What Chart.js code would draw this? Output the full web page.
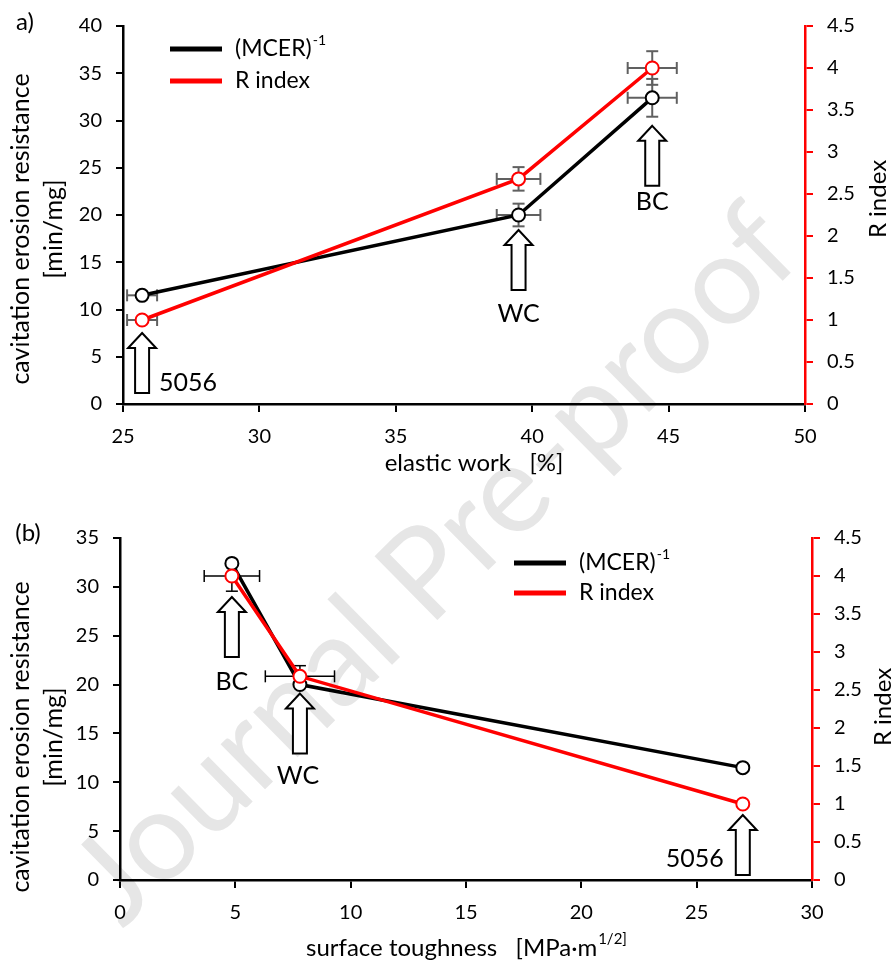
<!DOCTYPE html>
<html>
<head>
<meta charset="utf-8">
<script src="https://cdn.jsdelivr.net/npm/chart.js@4"></script>
<style>
  body { margin: 0; background: #fff; }
  #wrap { position: relative; width: 891px; height: 964px; overflow: hidden; }
  #wm {
    position: absolute; left: 430px; top: 560px;
    transform: translate(-50%, -50%) rotate(-44.5deg);
    font: 125px Lato, sans-serif; color: #e6e6e6; white-space: nowrap;
  }
  canvas { position: absolute; left: 0; }
  #chartA { top: 0; }
  #chartB { top: 482px; }
</style>
</head>
<body>
<div id="wrap">
  <div id="wm">Journal Pre-proof</div>
  <canvas id="chartA" width="891" height="482"></canvas>
  <canvas id="chartB" width="891" height="482"></canvas>
</div>
<script>
// sample names and measured values
const materials = ['5056', 'WC', 'BC'];
const elasticWork = [25.7, 39.5, 44.4];
const elasticWorkErr = [0.55, 0.8, 0.9];
const toughness = [27.0, 7.8, 4.85];
const toughnessErr = [0, 1.5, 1.2];
const mcerInv = [11.5, 20.0, 32.4];
const mcerInvErr = [0.3, 1.2, 2.0];
const rIndex = [1.0, 2.68, 4.0];
const rIndexErr = [0.03, 0.14, 0.2];

// axis ranges [min, max, step]
const xRangeA = [25, 50, 5];
const xRangeB = [0, 30, 5];
const yLeftRangeA = [0, 40, 5];
const yLeftRangeB = [0, 35, 5];
const yRightRange = [0, 4.5, 0.5];

const FONT = 'Lato, sans-serif';

function pts(xs, ys) {
    return xs.map((x, i) => ({ x: x, y: ys[i] }));
}

// draws a hollow up arrow
function upArrow(ctx, cx, tip, base) {
    ctx.save();
    ctx.beginPath();
    ctx.moveTo(cx, tip);
    ctx.lineTo(cx + 14, tip + 15);
    ctx.lineTo(cx + 7, tip + 15);
    ctx.lineTo(cx + 7, base);
    ctx.lineTo(cx - 7, base);
    ctx.lineTo(cx - 7, tip + 15);
    ctx.lineTo(cx - 14, tip + 15);
    ctx.closePath();
    ctx.fillStyle = '#fff';
    ctx.fill();
    ctx.lineWidth = 2;
    ctx.strokeStyle = '#000';
    ctx.stroke();
    ctx.restore();
}

function errLine(ctx, x1, y1, x2, y2) {
    ctx.beginPath();
    ctx.moveTo(x1, y1);
    ctx.lineTo(x2, y2);
    ctx.stroke();
}

// text with a superscript part
function supText(ctx, x, y, main, sup, size, align) {
    ctx.font = size + 'px ' + FONT;
    const w1 = ctx.measureText(main).width;
    ctx.font = Math.round(size * 0.62) + 'px ' + FONT;
    const w2 = ctx.measureText(sup).width;
    let start = x;
    if (align === 'center') start = x - (w1 + w2) / 2;
    ctx.textAlign = 'left';
    ctx.textBaseline = 'middle';
    ctx.font = size + 'px ' + FONT;
    ctx.fillText(main, start, y);
    ctx.font = Math.round(size * 0.62) + 'px ' + FONT;
    ctx.fillText(sup, start + w1 + 1, y - size * 0.38);
}

function makeChart(id, cfg) {
    const errPlugin = {
        id: 'errbars',
        beforeDatasetsDraw(chart) {
            const ctx = chart.ctx;
            const xs = chart.scales.x;
            ctx.save();
            ctx.strokeStyle = cfg.errColor;
            ctx.lineWidth = cfg.errWidth;
            cfg.errors.forEach(e => {
                const ys = chart.scales[e.axis];
                e.y.forEach((yv, i) => {
                    const px = xs.getPixelForValue(e.x[i]);
                    const py = ys.getPixelForValue(yv);
                    if (e.xErr && e.xErr[i]) {
                        const a = xs.getPixelForValue(e.x[i] - e.xErr[i]);
                        const b = xs.getPixelForValue(e.x[i] + e.xErr[i]);
                        errLine(ctx, a, py, b, py);
                        errLine(ctx, a, py - 6, a, py + 6);
                        errLine(ctx, b, py - 6, b, py + 6);
                    }
                    if (e.yErr && e.yErr[i]) {
                        const a = ys.getPixelForValue(yv - e.yErr[i]);
                        const b = ys.getPixelForValue(yv + e.yErr[i]);
                        errLine(ctx, px, a, px, b);
                        errLine(ctx, px - 6, a, px + 6, a);
                        errLine(ctx, px - 6, b, px + 6, b);
                    }
                });
            });
            ctx.restore();
        },
        afterDraw(chart) {
            const ctx = chart.ctx;
            const xs = chart.scales.x;
            ctx.save();
            ctx.fillStyle = '#000';
            // arrows with sample labels
            cfg.arrows.forEach(a => {
                const ys = chart.scales[a.axis];
                const cx = xs.getPixelForValue(cfg.xData[a.i]);
                const py = ys.getPixelForValue(a.axis === 'y' ? mcerInv[a.i] : rIndex[a.i]);
                const tip = py + a.gap;
                const base = tip + 60;
                upArrow(ctx, cx, tip, base);
                ctx.font = '25px ' + FONT;
                ctx.textAlign = a.align;
                ctx.textBaseline = 'middle';
                ctx.fillText(materials[a.i], cx + a.ldx, base + a.ldy);
            });
            // legend
            const lg = cfg.legend;
            [['#000', 0], ['#ff0000', 1]].forEach(([c, k]) => {
                const y = lg.y + k * lg.dy;
                ctx.strokeStyle = c;
                ctx.lineWidth = 5;
                errLine(ctx, lg.x, y, lg.x + 52, y);
            });
            ctx.fillStyle = '#000';
            supText(ctx, lg.x + 65, lg.y, '(MCER)', '-1', 23, 'left');
            ctx.font = '23px ' + FONT;
            ctx.textAlign = 'left';
            ctx.fillText('R index', lg.x + 65, lg.y + lg.dy);
            // panel letter
            ctx.font = '24px ' + FONT;
            ctx.textAlign = 'center';
            ctx.fillText(cfg.letter[0], cfg.letter[1], cfg.letter[2]);
            // axis titles
            ctx.font = '25px ' + FONT;
            ctx.save();
            ctx.translate(21, cfg.yTitleY);
            ctx.rotate(-Math.PI / 2);
            ctx.fillText('cavitation erosion resistance', 0, 0);
            ctx.fillText('[min/mg]', 0, 33);
            ctx.restore();
            ctx.font = '24px ' + FONT;
            ctx.save();
            ctx.translate(cfg.rTitle[0], cfg.rTitle[1]);
            ctx.rotate(-Math.PI / 2);
            ctx.fillText('R index', 0, 0);
            ctx.restore();
            if (cfg.xTitleSup) {
                supText(ctx, cfg.xTitle[0], cfg.xTitle[1], cfg.xTitleText, cfg.xTitleSup, 24, 'center');
            } else {
                ctx.font = '24px ' + FONT;
                ctx.fillText(cfg.xTitleText, cfg.xTitle[0], cfg.xTitle[1]);
            }
            ctx.restore();
        }
    };

    const tickFont = { family: FONT, size: 20 };
    const plain = v => String(v);
    return new Chart(document.getElementById(id), {
        type: 'line',
        data: {
            datasets: [
                {
                    label: 'R index',
                    data: pts(cfg.xData, rIndex),
                    yAxisID: 'y2',
                    borderColor: '#ff0000',
                    pointBorderColor: '#ff0000',
                    order: 0
                },
                {
                    label: '(MCER)-1',
                    data: pts(cfg.xData, mcerInv),
                    yAxisID: 'y',
                    borderColor: '#000',
                    pointBorderColor: '#000',
                    order: 1
                }
            ]
        },
        options: {
            responsive: false,
            animation: false,
            devicePixelRatio: 1,
            layout: { padding: { top: cfg.top, left: 0, right: 0, bottom: 0 } },
            elements: {
                line: { borderWidth: 3.5, tension: 0, fill: false },
                point: { radius: 6.5, borderWidth: 2, backgroundColor: '#fff' }
            },
            plugins: { legend: { display: false }, tooltip: { enabled: false } },
            scales: {
                x: {
                    type: 'linear',
                    min: cfg.xRange[0], max: cfg.xRange[1],
                    ticks: { stepSize: cfg.xRange[2], color: '#000', font: tickFont, padding: 13, callback: plain },
                    grid: { drawOnChartArea: false, tickLength: 8, color: '#000', lineWidth: 2 },
                    border: { color: '#000', width: 2.5 },
                    afterFit(s) { s.height = cfg.xH; }
                },
                y: {
                    position: 'left',
                    min: cfg.yRange[0], max: cfg.yRange[1],
                    ticks: { stepSize: cfg.yRange[2], color: '#000', font: tickFont, padding: 14, callback: plain },
                    grid: { drawOnChartArea: false, tickLength: 7, color: '#000', lineWidth: 2 },
                    border: { color: '#000', width: 2.5 },
                    afterFit(s) { s.width = cfg.left; }
                },
                y2: {
                    position: 'right',
                    min: yRightRange[0], max: yRightRange[1],
                    ticks: { stepSize: yRightRange[2], color: '#000', font: tickFont, padding: 14, callback: plain },
                    grid: { drawOnChartArea: false, tickLength: 8, color: '#ff0000', lineWidth: 2 },
                    border: { color: '#ff0000', width: 2.5 },
                    afterFit(s) { s.width = cfg.right; }
                }
            }
        },
        plugins: [errPlugin]
    });
}

// panel a: elastic work
makeChart('chartA', {
    xData: elasticWork, xRange: xRangeA, yRange: yLeftRangeA,
    top: 23, left: 123, right: 86, xH: 78,
    errColor: '#606060', errWidth: 2,
    errors: [
        { axis: 'y', x: elasticWork, y: mcerInv, xErr: elasticWorkErr, yErr: mcerInvErr },
        { axis: 'y2', x: elasticWork, y: rIndex, xErr: elasticWorkErr, yErr: rIndexErr }
    ],
    arrows: [
        { i: 0, axis: 'y2', gap: 13, ldx: 17, ldy: -10, align: 'left' },
        { i: 1, axis: 'y', gap: 15, ldx: 0, ldy: 24, align: 'center' },
        { i: 2, axis: 'y', gap: 28, ldx: 0, ldy: 16, align: 'center' }
    ],
    legend: { x: 170, y: 49, dy: 32 },
    letter: ['a)', 25, 22],
    yTitleY: 229,
    rTitle: [878, 199],
    xTitleText: 'elastic work   [%]', xTitle: [474, 463]
});

// panel b: surface toughness
makeChart('chartB', {
    xData: toughness, xRange: xRangeB, yRange: yLeftRangeB,
    top: 56, left: 120, right: 79, xH: 84,
    errColor: '#000', errWidth: 1.5,
    errors: [
        { axis: 'y2', x: toughness, y: rIndex, xErr: toughnessErr, yErr: [0, rIndexErr[1], rIndexErr[2]] }
    ],
    arrows: [
        { i: 0, axis: 'y2', gap: 11, ldx: -19, ldy: -16, align: 'right' },
        { i: 1, axis: 'y', gap: 9, ldx: -2, ldy: 22, align: 'center' },
        { i: 2, axis: 'y2', gap: 21, ldx: 0, ldy: 25, align: 'center' }
    ],
    legend: { x: 514, y: 81, dy: 30 },
    letter: ['(b)', 28, 51],
    yTitleY: 255,
    rTitle: [883, 225],
    xTitleText: 'surface toughness   [MPa·m', xTitleSup: '1/2]', xTitle: [466, 466]
});
</script>
</body>
</html>
